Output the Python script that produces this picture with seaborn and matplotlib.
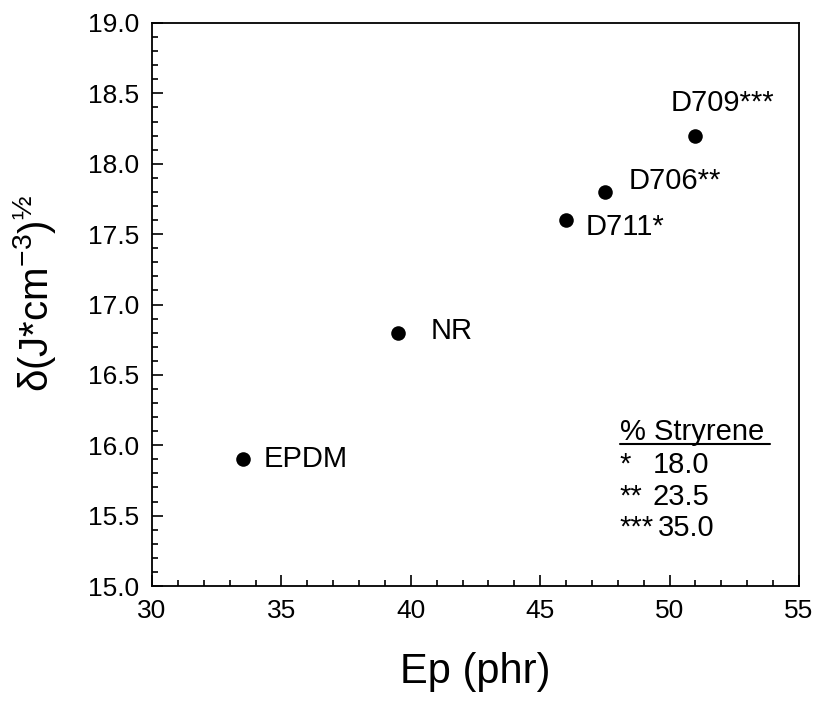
import matplotlib
matplotlib.use("Agg")
import matplotlib.pyplot as plt
import seaborn as sns
import pandas as pd
from matplotlib.ticker import MultipleLocator, FormatStrFormatter

# ---- data ----
rubbers = ["EPDM", "NR", "D711*", "D706**", "D709***"]
ep_phr = [33.5, 39.5, 46.0, 47.5, 51.0]
delta = [15.9, 16.8, 17.6, 17.8, 18.2]
legend_marks = ["*", "**", "***"]
styrene_pct = ["18.0", "23.5", "35.0"]

df = pd.DataFrame({"Ep": ep_phr, "delta": delta, "name": rubbers})

sns.set_style("ticks")
plt.rcParams["font.family"] = ["Liberation Sans", "DejaVu Sans"]
plt.rcParams["mathtext.fontset"] = "custom"
plt.rcParams["mathtext.rm"] = "Liberation Sans"
plt.rcParams["mathtext.it"] = "Liberation Sans"
plt.rcParams["mathtext.default"] = "regular"
for key in ["text.color", "axes.labelcolor", "xtick.color", "ytick.color",
            "axes.edgecolor"]:
    plt.rcParams[key] = "black"

fig = plt.figure(figsize=(8.18, 7.02), dpi=100)
ax = fig.add_axes([152/818, 1-586/702, (799-152)/818, (586-23)/702])

sns.scatterplot(data=df, x="Ep", y="delta", ax=ax, color="black",
                s=110, edgecolor="black", linewidth=0, legend=False, zorder=3)

# label offsets in pixels (styling only)
offsets = [(21, 0, "left", "center"), (33, 2, "left", "center"),
           (20, -7, "left", "center"), (24, 11, "left", "center"),
           (-25, 33, "left", "center")]
for name, xv, yv, (dx, dy, ha, va) in zip(rubbers, ep_phr, delta, offsets):
    ax.annotate(name, (xv, yv), xytext=(dx, dy), textcoords="offset pixels",
                ha=ha, va=va, fontsize=21, color="black")

ax.set_xlim(30, 55)
ax.set_ylim(15, 19)
ax.xaxis.set_major_locator(MultipleLocator(5))
ax.xaxis.set_minor_locator(MultipleLocator(1))
ax.yaxis.set_major_locator(MultipleLocator(0.5))
ax.yaxis.set_minor_locator(MultipleLocator(0.1))
ax.yaxis.set_major_formatter(FormatStrFormatter("%.1f"))
ax.tick_params(which="both", direction="in", top=False, right=False,
               width=1.2, color="black", labelcolor="black")
ax.tick_params(which="major", length=8, labelsize=19, pad=9)
ax.tick_params(which="minor", length=4)
for sp in ax.spines.values():
    sp.set_visible(True)
    sp.set_linewidth(1.3)
    sp.set_color("black")

ax.set_xlabel("Ep (phr)", fontsize=30, color="black")
ax.set_ylabel("δ(J*cm$^{-3}$)$^{½}$", fontsize=29, color="black")
ax.xaxis.set_label_coords(0.5, -0.118)
ax.yaxis.set_label_coords(-0.145, 0.52)

# styrene key
ax.text(0.723, 0.2735, "% Stryrene", transform=ax.transAxes, fontsize=21,
        ha="left", va="center")
ax.plot([0.723, 0.955], [0.252, 0.252], transform=ax.transAxes, color="black",
        lw=1.5, clip_on=False)
rows_y = [0.215, 0.158, 0.103]
num_x = [0.774, 0.774, 0.782]
for mk, pct, yy, nx in zip(legend_marks, styrene_pct, rows_y, num_x):
    ax.text(0.723, yy, mk, transform=ax.transAxes, fontsize=21, ha="left", va="center")
    ax.text(nx, yy, pct, transform=ax.transAxes, fontsize=21, ha="left", va="center")

fig.savefig("out.png", dpi=100)
